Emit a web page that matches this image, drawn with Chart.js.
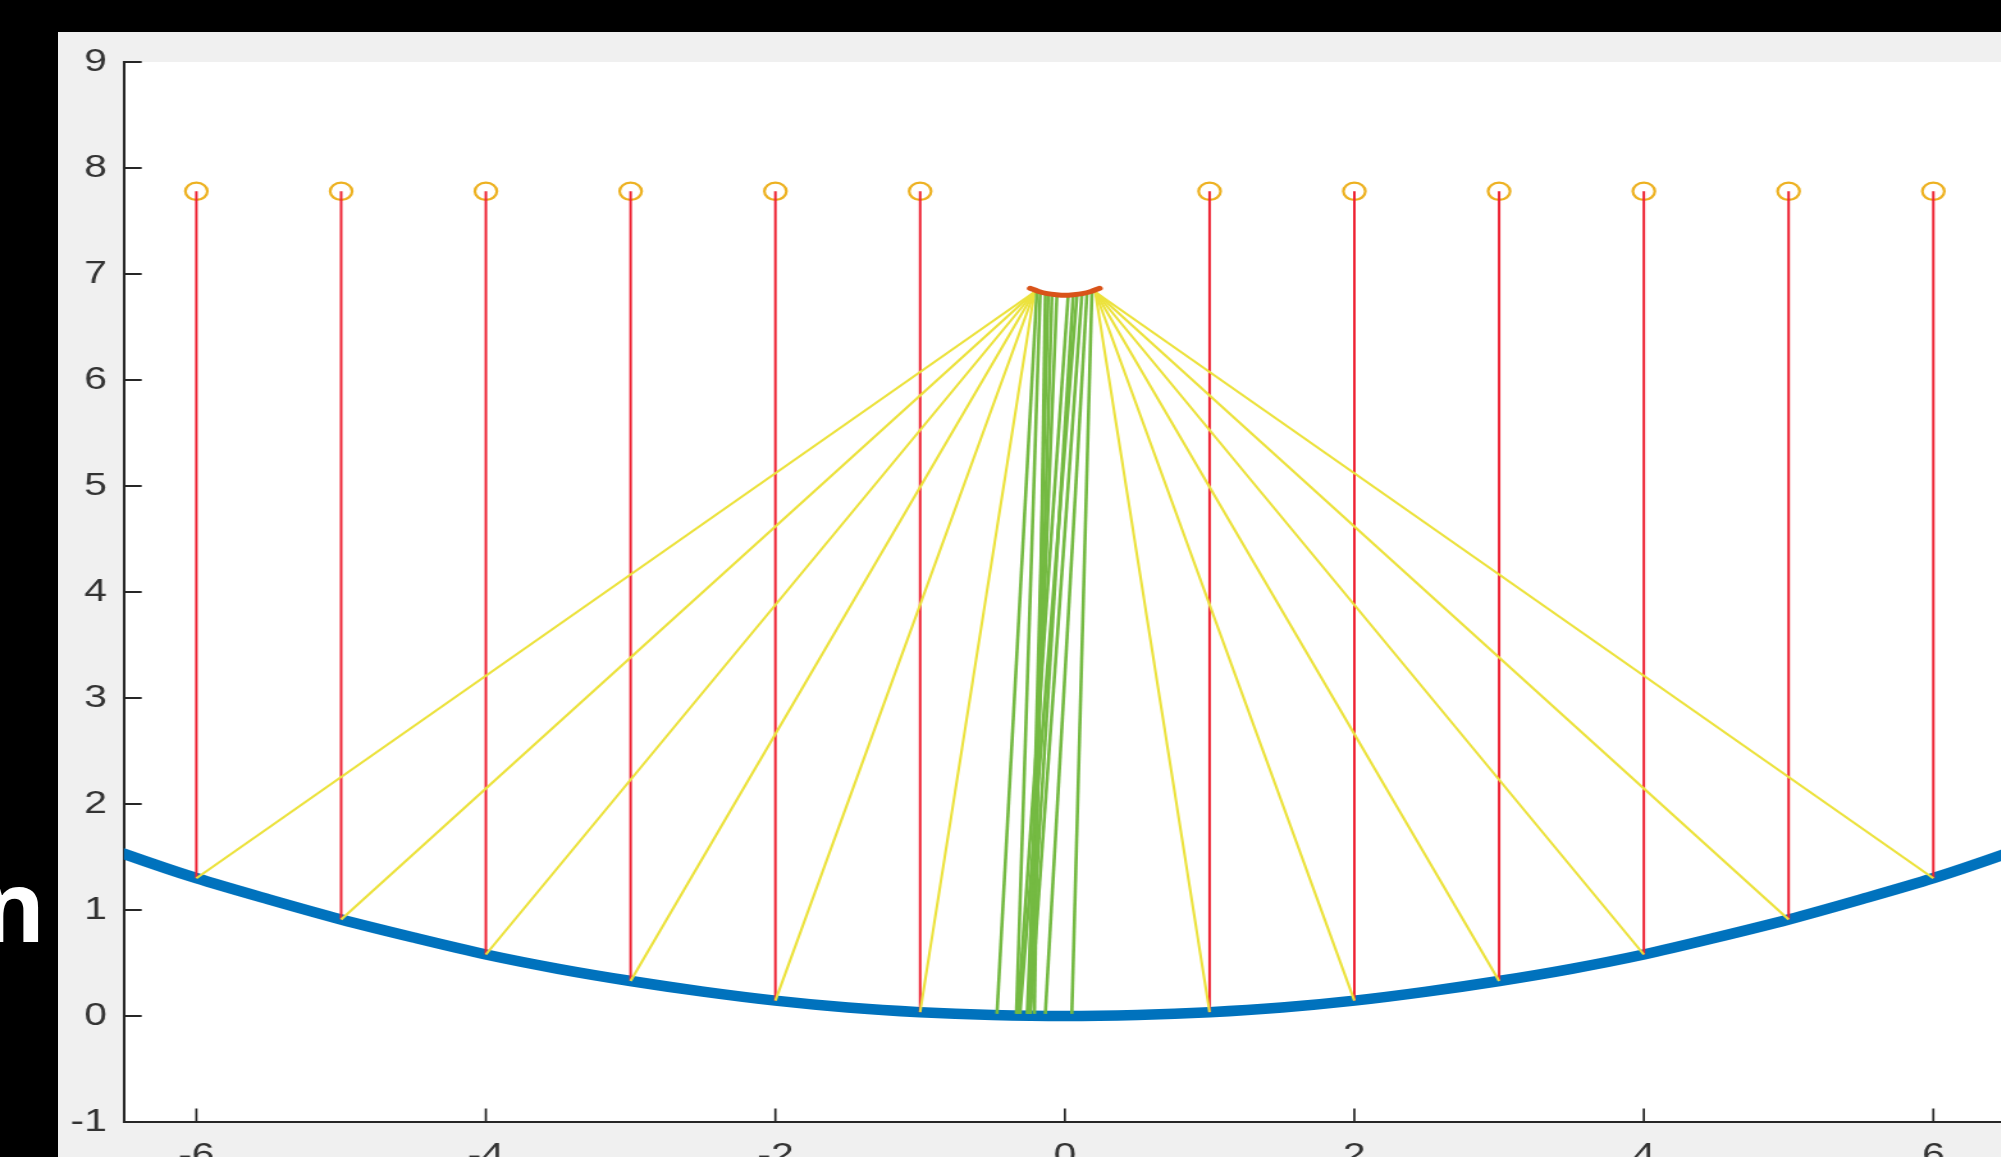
<!DOCTYPE html>
<html><head><meta charset="utf-8">
<script src="https://cdn.jsdelivr.net/npm/chart.js@4.4.1/dist/chart.umd.min.js"></script>
<style>
html,body{margin:0;padding:0;overflow:hidden;background:#000;width:2001px;height:1157px;}
#panel{position:absolute;left:58px;top:32px;width:1943px;height:1125px;background:#f0f0f0;}
#c{position:absolute;left:0;top:0;}
#glyph{position:absolute;left:-19px;top:855px;font-family:'Open Sans';font-weight:700;font-size:98px;line-height:1;color:#fff;}
</style></head><body>
<div id="panel"></div>
<div id="glyph">n</div>
<canvas id="c" width="1578" height="1200" style="width:2020px;height:1200px;"></canvas>
<script>
// ---- data ----
const xTicks = [-6, -4, -2, 0, 2, 4, 6];
const xTickLabels = ['-6', '-4', '-2', '0', '2', '4', '6'];
const yTicks = [-1, 0, 1, 2, 3, 4, 5, 6, 7, 8, 9];
const yTickLabels = ['-1', '0', '1', '2', '3', '4', '5', '6', '7', '8', '9'];

// primary mirror (blue curve)
const curveX = [-7, -6.5, -6, -5.5, -5, -4.5, -4, -3.5, -3, -2.5, -2, -1.5, -1, -0.5, 0, 0.5, 1, 1.5, 2, 2.5, 3, 3.5, 4, 4.5, 5, 5.5, 6, 6.5, 7];
const curveY = [1.78, 1.53, 1.30, 1.10, 0.91, 0.74, 0.58, 0.445, 0.33, 0.23, 0.145, 0.08, 0.036, 0.01, 0, 0.01, 0.036, 0.08, 0.145, 0.23, 0.33, 0.445, 0.58, 0.74, 0.91, 1.10, 1.30, 1.53, 1.78];

// incoming rays (red) with source markers
const rayX = [-6, -5, -4, -3, -2, -1, 1, 2, 3, 4, 5, 6];
const rayTopY = [7.78, 7.78, 7.78, 7.78, 7.78, 7.78, 7.78, 7.78, 7.78, 7.78, 7.78, 7.78];
const rayBaseY = [1.30, 0.91, 0.58, 0.33, 0.145, 0.036, 0.036, 0.145, 0.33, 0.58, 0.91, 1.30];

// reflected rays (yellow) end points on the secondary
const yellowEndX = [-0.21, -0.21, -0.21, -0.21, -0.21, -0.21, 0.21, 0.21, 0.21, 0.21, 0.21, 0.21];
const yellowEndY = [6.83, 6.83, 6.83, 6.83, 6.83, 6.83, 6.83, 6.83, 6.83, 6.83, 6.83, 6.83];

// secondary mirror (small arc)
const arcX = [-0.24, -0.18, -0.12, -0.06, 0, 0.06, 0.12, 0.18, 0.24];
const arcY = [6.865, 6.835, 6.815, 6.805, 6.8, 6.805, 6.815, 6.835, 6.865];

// rays from secondary (green)
const greenTopX = [-0.193, -0.17, -0.135, -0.115, -0.089, -0.055, 0.023, 0.058, 0.084, 0.118, 0.153, 0.187];
const greenTopY = [6.84, 6.83, 6.82, 6.815, 6.81, 6.805, 6.80, 6.805, 6.81, 6.815, 6.825, 6.835];
const greenBottomX = [-0.469, -0.335, -0.21, -0.25, -0.24, -0.26, -0.325, -0.255, -0.31, -0.239, -0.135, 0.048];
const greenBottomY = [0.02, 0.02, 0.02, 0.02, 0.02, 0.02, 0.02, 0.02, 0.02, 0.02, 0.02, 0.02];

// ---- chart ----
const CSS_W = 2020, PIX_W = 1578;
const K = CSS_W / PIX_W; // horizontal stretch of the reference
const AREA_LEFT = 124 / K;
const AREA_RIGHT = 2005.7 / K;

function seg(xs, ys, color, width) {
  return {
    data: xs.map((x, i) => ({x: x, y: ys[i]})),
    showLine: true, borderColor: color, borderWidth: width,
    pointRadius: 0, pointHoverRadius: 0, fill: false, tension: 0,
    borderCapStyle: 'butt'
  };
}

const datasets = [];
// top-most first
datasets.push(Object.assign(seg(arcX, arcY, '#D95319', 5), {tension: 0.3, borderCapStyle: 'round'}));
greenTopX.forEach((x, i) => datasets.push(seg([x, greenBottomX[i]], [greenTopY[i], greenBottomY[i]], '#74ba42', 2.6)));
rayX.forEach((x, i) => datasets.push(seg([x, yellowEndX[i]], [rayBaseY[i], yellowEndY[i]], '#ece23c', 2.1)));
rayX.forEach((x, i) => datasets.push(seg([x, x], [rayTopY[i], rayBaseY[i]], '#ee2233', 2)));
datasets.push({
  data: rayX.map((x, i) => ({x: x, y: rayTopY[i]})),
  showLine: false, pointStyle: 'circle', pointRadius: 8.6, pointHoverRadius: 8.6,
  pointBorderWidth: 2.2, pointBorderColor: '#EDB120', pointBackgroundColor: 'rgba(0,0,0,0)'
});
datasets.push(Object.assign(seg(curveX, curveY, '#0072BD', 10.5), {tension: 0.3, borderCapStyle: 'butt'}));

const plotBg = {
  id: 'plotBg',
  beforeDraw(chart) {
    const {ctx, chartArea: a} = chart;
    ctx.save();
    ctx.fillStyle = '#ffffff';
    ctx.fillRect(a.left, a.top, a.right - a.left, a.bottom - a.top);
    ctx.restore();
  }
};
const innerTicks = {
  id: 'innerTicks',
  afterDraw(chart) {
    const {ctx, chartArea: a, scales} = chart;
    ctx.save();
    ctx.strokeStyle = '#262626';
    ctx.lineWidth = 2;
    ctx.beginPath();
    yTicks.forEach(v => { const p = scales.y.getPixelForValue(v); ctx.moveTo(a.left, p); ctx.lineTo(a.left + 13.8, p); });
    ctx.stroke();
    ctx.lineWidth = 1.7;
    ctx.beginPath();
    xTicks.forEach(v => { const p = scales.x.getPixelForValue(v); ctx.moveTo(p, a.bottom); ctx.lineTo(p, a.bottom - 13.5); });
    ctx.stroke();
    ctx.restore();
  }
};

const tickFont = {family: "'Liberation Sans', Arial, Helvetica, sans-serif", size: 32};

new Chart(document.getElementById('c'), {
  type: 'scatter',
  data: {datasets: datasets},
  options: {
    responsive: false, animation: false, devicePixelRatio: 1,
    events: [],
    layout: {padding: {left: 0, top: 62, right: PIX_W - AREA_RIGHT, bottom: 0}},
    plugins: {legend: {display: false}, tooltip: {enabled: false}},
    scales: {
      x: {
        type: 'linear', min: -6.5, max: 6.5,
        afterBuildTicks: s => { s.ticks = xTicks.map(v => ({value: v})); },
        afterFit: s => { s.height = 78; },
        grid: {display: false, drawTicks: false},
        border: {display: true, color: '#262626', width: 2},
        ticks: {font: tickFont, color: '#333333', padding: 15, maxRotation: 0, autoSkip: false,
                callback: (v, i) => xTickLabels[i]}
      },
      y: {
        type: 'linear', min: -1, max: 9,
        afterBuildTicks: s => { s.ticks = yTicks.map(v => ({value: v})); },
        afterFit: s => { s.width = AREA_LEFT; },
        grid: {display: false, drawTicks: false},
        border: {display: true, color: '#262626', width: 2},
        ticks: {font: tickFont, color: '#333333', padding: 13.3, autoSkip: false,
                callback: (v, i) => yTickLabels[i]}
      }
    }
  },
  plugins: [plotBg, innerTicks]
});
</script></body></html>
